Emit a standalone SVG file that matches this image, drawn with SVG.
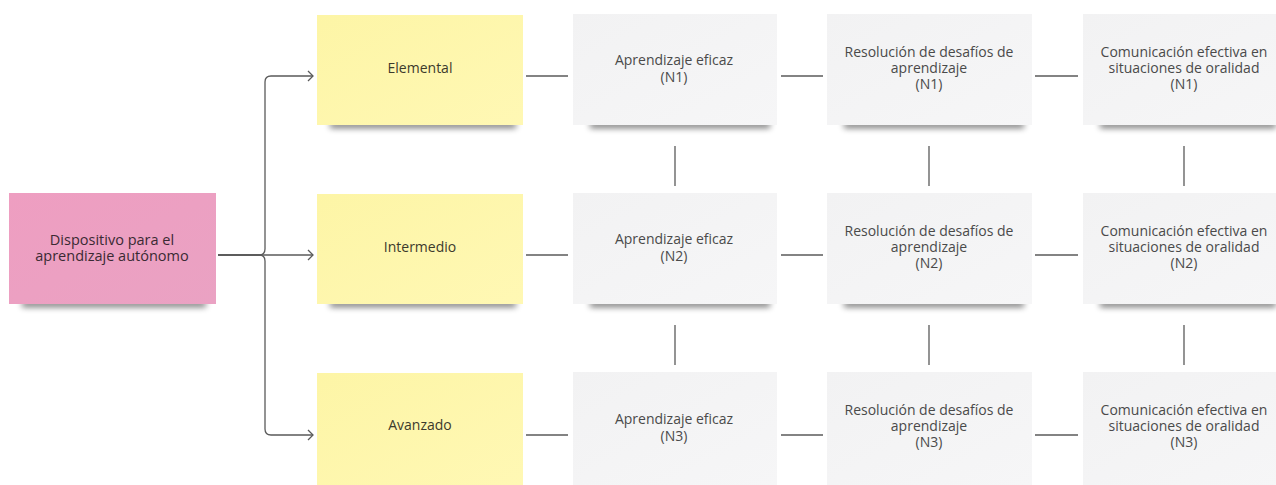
<svg xmlns="http://www.w3.org/2000/svg" width="1276" height="485" viewBox="0 0 1276 485">
  <style>
    .lbl { font-family: "Open Sans", "Noto Sans", "Liberation Sans", sans-serif; font-size: 14px; text-anchor: middle; fill: #4a4a4a; }
    .dark { fill: #3a2a33; font-size: 14.5px; }
    .yl { fill: #3c3a2c; }
    .wire { fill: none; stroke: #5a5a5a; stroke-width: 1.3; }
    .shadow { fill: #000; opacity: 0.55; filter: url(#soft); }
  </style>
  <defs>
    <filter id="soft" x="-10%" y="-200%" width="120%" height="500%">
      <feGaussianBlur stdDeviation="3"/>
    </filter>
    <linearGradient id="pinkFill" x1="0" y1="0" x2="1" y2="1">
      <stop offset="0" stop-color="#ee9ec1"/>
      <stop offset="1" stop-color="#eaa2c3"/>
    </linearGradient>
    <linearGradient id="yellowFill" x1="0" y1="0" x2="1" y2="1">
      <stop offset="0" stop-color="#fdf5a6"/>
      <stop offset="1" stop-color="#fff8b4"/>
    </linearGradient>
    <linearGradient id="grayFill" x1="0" y1="0" x2="1" y2="1">
      <stop offset="0" stop-color="#f2f2f3"/>
      <stop offset="1" stop-color="#f6f6f7"/>
    </linearGradient>
    <marker id="chevron" markerWidth="8" markerHeight="12" refX="6" refY="6" orient="auto" markerUnits="userSpaceOnUse">
      <path d="M1,1 L6,6 L1,11" fill="none" stroke="#5a5a5a" stroke-width="1.3"/>
    </marker>
  </defs>

  <rect width="1276" height="485" fill="#ffffff"/>

  <!-- connectors -->
  <g id="connectors">
    <path class="wire" d="M218,255 H259 Q265,255 265,249 V82 Q265,76 271,76 H313" marker-end="url(#chevron)"/>
    <path class="wire" d="M218,255 H259 Q265,255 265,261 V429 Q265,435 271,435 H313" marker-end="url(#chevron)"/>
    <path class="wire" d="M218,255 H313" marker-end="url(#chevron)"/>

    <path class="wire" d="M526,76 H568"/>
    <path class="wire" d="M781,76 H823"/>
    <path class="wire" d="M1035,76 H1078"/>
    <path class="wire" d="M526,255 H568"/>
    <path class="wire" d="M781,255 H823"/>
    <path class="wire" d="M1035,255 H1078"/>
    <path class="wire" d="M526,435 H568"/>
    <path class="wire" d="M781,435 H823"/>
    <path class="wire" d="M1035,435 H1078"/>

    <path class="wire" d="M675,146 V186"/>
    <path class="wire" d="M929,146 V186"/>
    <path class="wire" d="M1184,146 V186"/>
    <path class="wire" d="M675,325 V365"/>
    <path class="wire" d="M929,325 V365"/>
    <path class="wire" d="M1184,325 V365"/>
  </g>

  <!-- root -->
  <g id="root">
    <rect class="shadow" x="22" y="301" width="184" height="6"/>
    <rect x="9" y="193" width="207" height="111" fill="url(#pinkFill)"/>
    <text class="lbl dark" x="112" y="245">Dispositivo para el</text>
    <text class="lbl dark" x="112" y="261">aprendizaje autónomo</text>
  </g>

  <!-- levels -->
  <g id="elemental">
    <rect class="shadow" x="330" y="122" width="186" height="6"/>
    <rect x="317" y="15" width="206" height="110" fill="url(#yellowFill)"/>
    <text class="lbl yl" x="420" y="73">Elemental</text>
  </g>
  <g id="intermedio">
    <rect class="shadow" x="330" y="301" width="186" height="6"/>
    <rect x="317" y="194" width="206" height="110" fill="url(#yellowFill)"/>
    <text class="lbl yl" x="420" y="252">Intermedio</text>
  </g>
  <g id="avanzado">
    <rect x="317" y="373" width="206" height="112" fill="url(#yellowFill)"/>
    <text class="lbl yl" x="420" y="430">Avanzado</text>
  </g>

  <!-- row N1 -->
  <g id="aprendizaje-n1">
    <rect class="shadow" x="590" y="122" width="180" height="6"/>
    <rect x="573" y="14" width="204" height="111" fill="url(#grayFill)"/>
    <text class="lbl" x="674" y="65">Aprendizaje eficaz</text>
    <text class="lbl" x="674" y="82">(N1)</text>
  </g>
  <g id="resolucion-n1">
    <rect class="shadow" x="844" y="122" width="180" height="6"/>
    <rect x="827" y="14" width="205" height="111" fill="url(#grayFill)"/>
    <text class="lbl" x="929" y="57">Resolución de desafíos de</text>
    <text class="lbl" x="929" y="73">aprendizaje</text>
    <text class="lbl" x="929" y="89">(N1)</text>
  </g>
  <g id="comunicacion-n1">
    <rect class="shadow" x="1100" y="122" width="176" height="6"/>
    <rect x="1083" y="14" width="204" height="111" fill="url(#grayFill)"/>
    <text class="lbl" x="1184" y="57">Comunicación efectiva en</text>
    <text class="lbl" x="1184" y="73">situaciones de oralidad</text>
    <text class="lbl" x="1184" y="89">(N1)</text>
  </g>

  <!-- row N2 -->
  <g id="aprendizaje-n2">
    <rect class="shadow" x="590" y="301" width="180" height="6"/>
    <rect x="573" y="193" width="204" height="111" fill="url(#grayFill)"/>
    <text class="lbl" x="674" y="244">Aprendizaje eficaz</text>
    <text class="lbl" x="674" y="261">(N2)</text>
  </g>
  <g id="resolucion-n2">
    <rect class="shadow" x="844" y="301" width="180" height="6"/>
    <rect x="827" y="193" width="205" height="111" fill="url(#grayFill)"/>
    <text class="lbl" x="929" y="236">Resolución de desafíos de</text>
    <text class="lbl" x="929" y="252">aprendizaje</text>
    <text class="lbl" x="929" y="268">(N2)</text>
  </g>
  <g id="comunicacion-n2">
    <rect class="shadow" x="1100" y="301" width="176" height="6"/>
    <rect x="1083" y="193" width="204" height="111" fill="url(#grayFill)"/>
    <text class="lbl" x="1184" y="236">Comunicación efectiva en</text>
    <text class="lbl" x="1184" y="252">situaciones de oralidad</text>
    <text class="lbl" x="1184" y="268">(N2)</text>
  </g>

  <!-- row N3 -->
  <g id="aprendizaje-n3">
    <rect x="573" y="372" width="204" height="113" fill="url(#grayFill)"/>
    <text class="lbl" x="674" y="424">Aprendizaje eficaz</text>
    <text class="lbl" x="674" y="441">(N3)</text>
  </g>
  <g id="resolucion-n3">
    <rect x="827" y="372" width="205" height="113" fill="url(#grayFill)"/>
    <text class="lbl" x="929" y="415">Resolución de desafíos de</text>
    <text class="lbl" x="929" y="431">aprendizaje</text>
    <text class="lbl" x="929" y="447">(N3)</text>
  </g>
  <g id="comunicacion-n3">
    <rect x="1083" y="372" width="204" height="113" fill="url(#grayFill)"/>
    <text class="lbl" x="1184" y="415">Comunicación efectiva en</text>
    <text class="lbl" x="1184" y="431">situaciones de oralidad</text>
    <text class="lbl" x="1184" y="447">(N3)</text>
  </g>
</svg>
